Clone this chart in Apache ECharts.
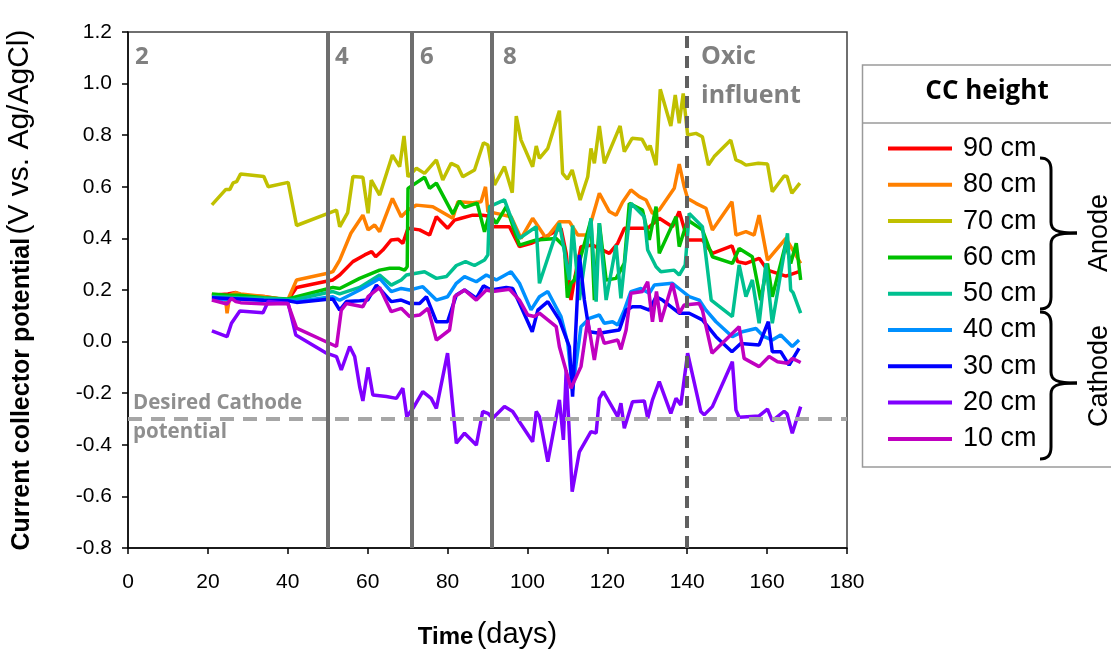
<!DOCTYPE html>
<html>
<head>
<meta charset="utf-8">
<script src="https://cdn.jsdelivr.net/npm/echarts@6/dist/echarts.min.js"></script>
<style>
  html, body { margin: 0; padding: 0; background: #fff; }
  #chart { width: 1111px; height: 654px; }
</style>
</head>
<body>
<div id="chart"></div>
<script>
// Current collector potential (V vs. Ag/AgCl) over time, one series per CC height.
// Each point is [day, potential].
const cc90 = [[21,0.18],[25,0.185],[27,0.19],[28.2,0.18],[34,0.175],[40,0.16],[42.2,0.21],[50,0.235],[51.3,0.239],[53,0.258],[56.3,0.31],[59.25,0.336],[61,0.349],[62,0.329],[63.8,0.355],[65.9,0.394],[67.6,0.397],[68.8,0.381],[70.1,0.439],[73,0.433],[75.5,0.413],[77.2,0.484],[80,0.439],[81.75,0.471],[83.4,0.478],[86.3,0.49],[88.8,0.49],[90.1,0.487],[91.3,0.445],[95.5,0.445],[98,0.368],[100.9,0.381],[104.7,0.407],[108.4,0.439],[109.7,0.342],[110.9,0.161],[111.75,0.239],[113.4,0.368],[116.3,0.374],[120.5,0.342],[122.6,0.381],[124.25,0.439],[130.1,0.439],[133,0.478],[136.3,0.445],[138,0.504],[140.1,0.394],[143.8,0.394],[146.3,0.342],[151.2,0.371],[152.6,0.31],[154.7,0.303],[158,0.323],[160.1,0.277],[164.7,0.254],[168,0.271]];
const cc80 = [[21,0.181],[23,0.18],[24.4,0.17],[24.8,0.11],[25.5,0.18],[27,0.19],[28.2,0.185],[34,0.175],[35.1,0.172],[40,0.161],[42.2,0.239],[50,0.265],[51.3,0.271],[53,0.316],[55.8,0.42],[58.8,0.49],[60.1,0.433],[61.75,0.452],[63,0.426],[66.2,0.555],[68.4,0.484],[70.1,0.51],[72.2,0.529],[76.3,0.523],[81.3,0.478],[82.6,0.542],[86.3,0.538],[88.4,0.542],[89.5,0.6],[90.1,0.504],[92.2,0.497],[95.9,0.484],[98.4,0.4],[101.3,0.478],[104.7,0.4],[108,0.465],[110.5,0.465],[112.6,0.413],[115,0.413],[118,0.575],[120.5,0.504],[122.2,0.49],[123.8,0.54],[125.9,0.588],[128,0.562],[129.7,0.549],[131.3,0.497],[133,0.51],[136.75,0.594],[138,0.688],[139.25,0.6],[140.1,0.555],[142.2,0.536],[144.7,0.517],[146.3,0.433],[151.2,0.542],[152.2,0.413],[154.7,0.426],[156.75,0.413],[158,0.49],[160.1,0.316],[164.7,0.4],[168.4,0.303]];
const cc70 = [[21,0.53],[24.5,0.59],[25.5,0.59],[26.3,0.615],[27.2,0.62],[28.2,0.65],[34,0.64],[35.1,0.6],[40.1,0.617],[42.2,0.45],[50.1,0.497],[52.2,0.51],[53,0.445],[55,0.5],[56.3,0.64],[58.8,0.637],[60.1,0.497],[60.9,0.626],[63,0.568],[66.2,0.723],[68,0.678],[69.1,0.797],[70.1,0.639],[72.2,0.672],[74.25,0.652],[77.2,0.704],[78.8,0.626],[80.9,0.691],[82.6,0.678],[83.8,0.639],[86.75,0.665],[89,0.771],[90.1,0.762],[91.75,0.607],[94.25,0.678],[96.2,0.577],[97.2,0.874],[98.4,0.781],[101.3,0.678],[102.2,0.758],[103,0.71],[105.1,0.749],[108,0.895],[108.8,0.652],[110,0.63],[111.2,0.665],[113.2,0.549],[115.1,0.639],[115.9,0.749],[116.75,0.691],[118,0.836],[119.25,0.691],[123.2,0.836],[124.25,0.736],[126.2,0.788],[128.7,0.784],[130.1,0.743],[130.7,0.76],[132.2,0.684],[133.25,0.978],[135.9,0.836],[137,0.956],[138,0.846],[139,0.962],[140.1,0.801],[142.2,0.807],[143.8,0.794],[145.3,0.684],[146.75,0.717],[150.9,0.781],[152.2,0.704],[153.4,0.697],[154.7,0.684],[157.8,0.691],[160.1,0.688],[161.3,0.581],[164.25,0.642],[165,0.64],[166.2,0.575],[168.2,0.614]];
const cc60 = [[21,0.185],[25,0.18],[28,0.18],[34,0.17],[40,0.165],[42.2,0.174],[50,0.205],[51.3,0.21],[53,0.206],[58,0.245],[63,0.277],[65.5,0.284],[68,0.284],[69.25,0.277],[69.9,0.29],[70.1,0.594],[74.25,0.637],[75.5,0.594],[77.2,0.614],[81.3,0.495],[83,0.545],[84.25,0.52],[87.4,0.537],[89.25,0.426],[90.5,0.497],[92.2,0.458],[94.7,0.523],[98,0.374],[102.2,0.394],[107.2,0.4],[109.25,0.368],[110,0.17],[110.9,0.226],[111.75,0.239],[115.9,0.471],[116.75,0.161],[118,0.459],[119.7,0.239],[122.2,0.245],[124.25,0.303],[125.5,0.536],[128.8,0.51],[130.5,0.394],[132.2,0.523],[133,0.342],[137.2,0.484],[138,0.368],[140.1,0.471],[143.8,0.433],[146.3,0.329],[151.3,0.303],[153,0.361],[156.3,0.329],[158.4,0.161],[160.1,0.303],[161.3,0.174],[164.7,0.381],[165.9,0.303],[167.3,0.381],[168.4,0.239]];
const cc50 = [[21,0.175],[28,0.17],[34,0.168],[40,0.163],[42.2,0.164],[50,0.19],[51.3,0.194],[53,0.185],[58,0.21],[63,0.258],[65.9,0.219],[68.4,0.239],[69.7,0.258],[74.25,0.271],[77.2,0.245],[79.7,0.252],[82.2,0.295],[84.5,0.31],[86.75,0.295],[89.25,0.316],[90.1,0.336],[90.5,0.523],[94.25,0.549],[95.5,0.497],[98,0.4],[102.2,0.445],[103,0.226],[108,0.459],[110.5,0.239],[111.3,0.45],[113,0.161],[115.9,0.478],[117.2,0.155],[118,0.459],[119.7,0.161],[122.2,0.374],[123.4,0.168],[125.9,0.536],[129.25,0.484],[130.1,0.355],[132.2,0.29],[133.4,0.271],[136.75,0.277],[138,0.258],[139.5,0.297],[140.5,0.497],[143.8,0.445],[146,0.161],[151.3,0.097],[153,0.297],[154.7,0.174],[156.3,0.239],[158,0.071],[159.7,0.303],[161.3,0.071],[165.1,0.42],[165.9,0.2],[166.5,0.19],[168.4,0.11]];
const cc40 = [[21,0.16],[28,0.165],[34,0.16],[40,0.158],[42.2,0.155],[50,0.172],[51.3,0.174],[53,0.16],[58,0.2],[63,0.245],[65.9,0.194],[68.4,0.206],[70.5,0.2],[73.8,0.213],[77.2,0.161],[80,0.174],[82.2,0.226],[84.25,0.252],[87.2,0.232],[89.7,0.258],[92.2,0.239],[95.9,0.271],[98,0.226],[100.9,0.123],[103,0.174],[105.1,0.194],[108.4,0.097],[110.1,-0.007],[111.3,-0.188],[113.4,0.058],[115.5,0.09],[118,0.103],[119.25,0.071],[121.3,0.077],[122.6,0.064],[124.25,0.122],[125.9,0.194],[128.4,0.206],[130.5,0.187],[131.75,0.219],[136.3,0.226],[138.4,0.2],[140.5,0.174],[143,0.161],[144.7,0.122],[147.2,0.077],[151.3,0.019],[153.8,0.038],[157.2,0.051],[159.25,0.019],[161.3,0.006],[163.4,0.026],[166.3,-0.019],[168,0.006]];
const cc30 = [[21,0.17],[28,0.165],[34,0.16],[40,0.158],[42.2,0.152],[50,0.164],[51.3,0.165],[53,0.122],[54.7,0.155],[58,0.158],[60,0.161],[62.2,0.219],[65.9,0.155],[68.4,0.161],[70.5,0.148],[73,0.148],[74.7,0.174],[77.2,0.077],[80,0.077],[82.2,0.181],[84.25,0.2],[87.2,0.168],[89,0.216],[90.9,0.2],[94.7,0.21],[96.3,0.206],[98.4,0.135],[101.2,0.038],[102.6,0.122],[105.1,0.155],[108,0.084],[110.5,-0.02],[111.3,-0.213],[113,0.336],[114.25,0.161],[115.5,0.038],[118,0.032],[121,0.04],[123,0.045],[124.7,0.122],[126.3,0.135],[128.4,0.135],[130.5,0.122],[132.2,0.174],[133.8,0.161],[138,0.11],[140.5,0.11],[143.8,0.084],[147.2,0.019],[151.2,-0.039],[153.4,-0.007],[158,-0.013],[160.3,0.077],[161.3,-0.039],[163.4,-0.039],[165.5,-0.091],[168,-0.026]];
const cc20 = [[21,0.042],[24.8,0.019],[25.9,0.071],[28,0.119],[33.8,0.112],[35.1,0.155],[40.1,0.148],[42,0.026],[49.7,-0.045],[52.2,-0.058],[53.4,-0.11],[55.5,-0.019],[56.75,-0.058],[58,-0.175],[58.8,-0.23],[60.1,-0.1],[61.3,-0.207],[64.7,-0.213],[67.2,-0.22],[68.8,-0.181],[69.8,-0.291],[71.5,-0.255],[73.8,-0.194],[75.9,-0.22],[77.2,-0.259],[80,-0.045],[82.2,-0.394],[84.25,-0.355],[87.2,-0.401],[88.8,-0.271],[90.1,-0.278],[91.3,-0.297],[94.25,-0.252],[96.3,-0.271],[101.3,-0.388],[102.2,-0.271],[103,-0.291],[105.1,-0.465],[108,-0.226],[109,-0.381],[109.7,-0.11],[111.2,-0.582],[113,-0.427],[115.9,-0.349],[117.2,-0.355],[118,-0.22],[119,-0.194],[122.6,-0.291],[123.4,-0.239],[124.25,-0.336],[126.3,-0.233],[129.25,-0.23],[130.1,-0.297],[131.3,-0.226],[133,-0.155],[135.9,-0.278],[137.2,-0.22],[138.4,-0.246],[140.1,-0.045],[143.4,-0.271],[144.25,-0.284],[146.3,-0.252],[151.3,-0.078],[152.2,-0.265],[153,-0.293],[158,-0.288],[160.1,-0.262],[161.3,-0.307],[164.25,-0.27],[165,-0.28],[166.3,-0.355],[168.4,-0.252]];
const cc10 = [[21,0.161],[24.8,0.146],[25.9,0.168],[27,0.155],[28.2,0.151],[34.7,0.146],[40,0.148],[42.2,0.052],[52.2,-0.019],[53.4,0.122],[54.7,0.148],[58.8,0.135],[60.1,0.174],[63,0.21],[65.9,0.116],[68.4,0.129],[70.5,0.097],[73,0.103],[75.1,0.129],[77.2,0.006],[80.5,0.045],[81.75,0.174],[84.25,0.2],[87.2,0.161],[89.7,0.2],[91.3,0.194],[95.5,0.203],[98,0.161],[100.1,0.103],[101.75,0.097],[103,0.11],[107.2,0.058],[108,-0.02],[110.9,-0.181],[113.4,-0.097],[115.1,0.084],[116.75,-0.071],[118,0.052],[119.25,-0.007],[122.6,0.006],[123.4,-0.03],[124.7,0.045],[125.9,0.187],[128.8,0.194],[130.1,0.232],[131.3,0.077],[132.3,0.194],[133.4,0.077],[136.3,0.226],[138,0.11],[139.25,0.142],[143,0.148],[143.8,0.122],[146.2,-0.045],[153,0.058],[154.25,-0.065],[158,-0.097],[160.5,-0.058],[162.6,-0.078],[165.1,-0.084],[166.3,-0.065],[168.4,-0.081]];

const heightNames = ['90 cm', '80 cm', '70 cm', '60 cm', '50 cm', '40 cm', '30 cm', '20 cm', '10 cm'];
const heightData = [cc90, cc80, cc70, cc60, cc50, cc40, cc30, cc20, cc10];
const heightColors = ['#FF0000', '#FF8000', '#C0C000', '#00C000', '#00C090', '#0090FF', '#0000FF', '#8000FF', '#C000C0'];

// Phase boundaries (days) and reference potential
const phaseDays = [50, 71, 91];
const oxicDay = 140;
const desiredCathode = -0.3;

const xTicks = { min: 0, max: 180, interval: 20 };
const yTicks = { min: -0.8, max: 1.2, interval: 0.2 };

const AX = 'Liberation Sans, Arial, sans-serif';
const CAL = 'Open Sans, Noto Sans, sans-serif';

const series = heightNames.map((name, i) => ({
  name,
  type: 'line',
  data: heightData[i],
  showSymbol: false,
  symbol: 'none',
  lineStyle: { color: heightColors[i], width: 3.5 },
  itemStyle: { color: heightColors[i] },
  z: 2
}));

series.push({
  name: 'guides',
  type: 'line',
  data: [],
  z: 3,
  markLine: {
    silent: true,
    symbol: ['none', 'none'],
    label: { show: false },
    data: [
      { yAxis: desiredCathode, lineStyle: { color: '#A6A6A6', width: 4, type: [14, 9] } },
      ...phaseDays.map(d => ({ xAxis: d, lineStyle: { color: '#6E6E6E', width: 4, type: 'solid' } })),
      { xAxis: oxicDay, lineStyle: { color: '#606060', width: 4, type: [12, 8] } }
    ]
  }
});

const grayLabel = (text, x, y, size, color) => ({
  type: 'text', x: x, y: y,
  style: { text, fill: color, font: `bold ${size}px ${CAL}`, textAlign: 'left', textVerticalAlign: 'middle' }, z: 10
});

// Curly brace "}" drawn from curve and line pieces
function brace(xl, xv, xt, yTop, yMid, yBot) {
  const st = { fill: 'none', stroke: '#000', lineWidth: 3 };
  return [
    { type: 'bezierCurve', shape: { x1: xl, y1: yTop, x2: xv, y2: yTop + 12, cpx1: xl + 8, cpy1: yTop, cpx2: xv, cpy2: yTop + 4 }, style: st, z: 3 },
    { type: 'line', shape: { x1: xv, y1: yTop + 12, x2: xv, y2: yMid - 11 }, style: st, z: 3 },
    { type: 'bezierCurve', shape: { x1: xv, y1: yMid - 11, x2: xt, y2: yMid, cpx1: xv, cpy1: yMid - 3, cpx2: xv + 5, cpy2: yMid }, style: st, z: 3 },
    { type: 'bezierCurve', shape: { x1: xt, y1: yMid, x2: xv, y2: yMid + 11, cpx1: xv + 5, cpy1: yMid, cpx2: xv, cpy2: yMid + 3 }, style: st, z: 3 },
    { type: 'line', shape: { x1: xv, y1: yMid + 11, x2: xv, y2: yBot - 12 }, style: st, z: 3 },
    { type: 'bezierCurve', shape: { x1: xv, y1: yBot - 12, x2: xl, y2: yBot, cpx1: xv, cpy1: yBot - 4, cpx2: xl + 8, cpy2: yBot }, style: st, z: 3 }
  ];
}

const titleRich = (bSize, nSize) => ({
  b: { fontWeight: 'bold', fontSize: bSize, lineHeight: nSize, fontFamily: AX, color: '#000', verticalAlign: 'bottom' },
  n: { fontSize: nSize, lineHeight: nSize, fontFamily: AX, color: '#000', verticalAlign: 'bottom' }
});

const option = {
  animation: false,
  backgroundColor: '#ffffff',
  grid: {
    left: 128, right: 264, top: 32, bottom: 106,
    outerBoundsMode: 'none', containLabel: false,
    show: true, borderColor: '#404040', borderWidth: 1.5, backgroundColor: 'transparent'
  },
  xAxis: {
    type: 'value', min: xTicks.min, max: xTicks.max, interval: xTicks.interval,
    axisLine: { show: true, onZero: false, lineStyle: { color: '#000', width: 1.5 } },
    axisTick: { show: true, inside: false, length: 6, lineStyle: { color: '#000', width: 1.5 } },
    axisLabel: { color: '#000', fontSize: 21, fontFamily: AX, margin: 24 },
    splitLine: { show: false },
    name: '{b|Time} {n|(days)}',
    nameLocation: 'middle', nameGap: 72,
    nameTextStyle: { rich: titleRich(24, 29) }
  },
  yAxis: {
    type: 'value', min: yTicks.min, max: yTicks.max, interval: yTicks.interval,
    axisLine: { show: true, onZero: false, lineStyle: { color: '#000', width: 1.5 } },
    axisTick: { show: true, inside: false, length: 6, lineStyle: { color: '#000', width: 1.5 } },
    axisLabel: {
      color: '#000', fontSize: 21, fontFamily: AX, margin: 16,
      formatter: v => (Math.abs(v) < 1e-9 ? 0 : v).toFixed(1)
    },
    splitLine: { show: false },
    name: '{b|Current collector potential} {n|(V vs. Ag/AgCl)}',
    nameLocation: 'middle', nameRotate: 90, nameGap: 93,
    nameTextStyle: { rich: titleRich(25, 30) }
  },
  legend: {
    data: heightNames,
    orient: 'vertical',
    left: 883, top: 130,
    itemWidth: 64, itemHeight: 4, itemGap: 9.3,
    icon: 'rect',
    textStyle: { fontSize: 27, fontFamily: AX, color: '#000', lineHeight: 26, padding: [0, 0, 0, 6] },
    selectedMode: false,
    z: 20
  },
  series,
  graphic: [
    // phase and event labels
    grayLabel('2', 135, 57, 24, '#808080'),
    grayLabel('4', 335, 57, 24, '#808080'),
    grayLabel('6', 420, 57, 24, '#808080'),
    grayLabel('8', 503, 57, 24, '#808080'),
    grayLabel('Oxic', 701, 57, 25, '#808080'),
    grayLabel('influent', 701, 96, 25, '#808080'),
    grayLabel('Desired Cathode', 133, 403, 20.5, '#8F8F8F'),
    grayLabel('potential', 133, 432, 20.5, '#8F8F8F'),
    // legend frame
    { type: 'rect', shape: { x: 862.5, y: 65, width: 260, height: 402 },
      style: { fill: '#fff', stroke: '#9A9A9A', lineWidth: 1.5 }, z: 1 },
    { type: 'line', shape: { x1: 862.5, y1: 123, x2: 1111, y2: 123 },
      style: { stroke: '#9A9A9A', lineWidth: 1.5 }, z: 2 },
    { type: 'text', x: 987, y: 92,
      style: { text: 'CC height', fill: '#000', font: `bold 26px ${CAL}`, textAlign: 'center', textVerticalAlign: 'middle' }, z: 3 },
    // braces grouping the electrode roles
    ...brace(1040, 1051, 1077, 158, 233, 309),
    ...brace(1040, 1051, 1077, 312, 383, 459),
    { type: 'text', x: 1100, y: 233, rotation: Math.PI / 2,
      style: { text: 'Anode', fill: '#000', font: `27px ${AX}`, textAlign: 'center', textVerticalAlign: 'middle' }, z: 3 },
    { type: 'text', x: 1100, y: 376, rotation: Math.PI / 2,
      style: { text: 'Cathode', fill: '#000', font: `27px ${AX}`, textAlign: 'center', textVerticalAlign: 'middle' }, z: 3 }
  ]
};

const chart = echarts.init(document.getElementById('chart'));
chart.setOption(option);
</script>
</body>
</html>
